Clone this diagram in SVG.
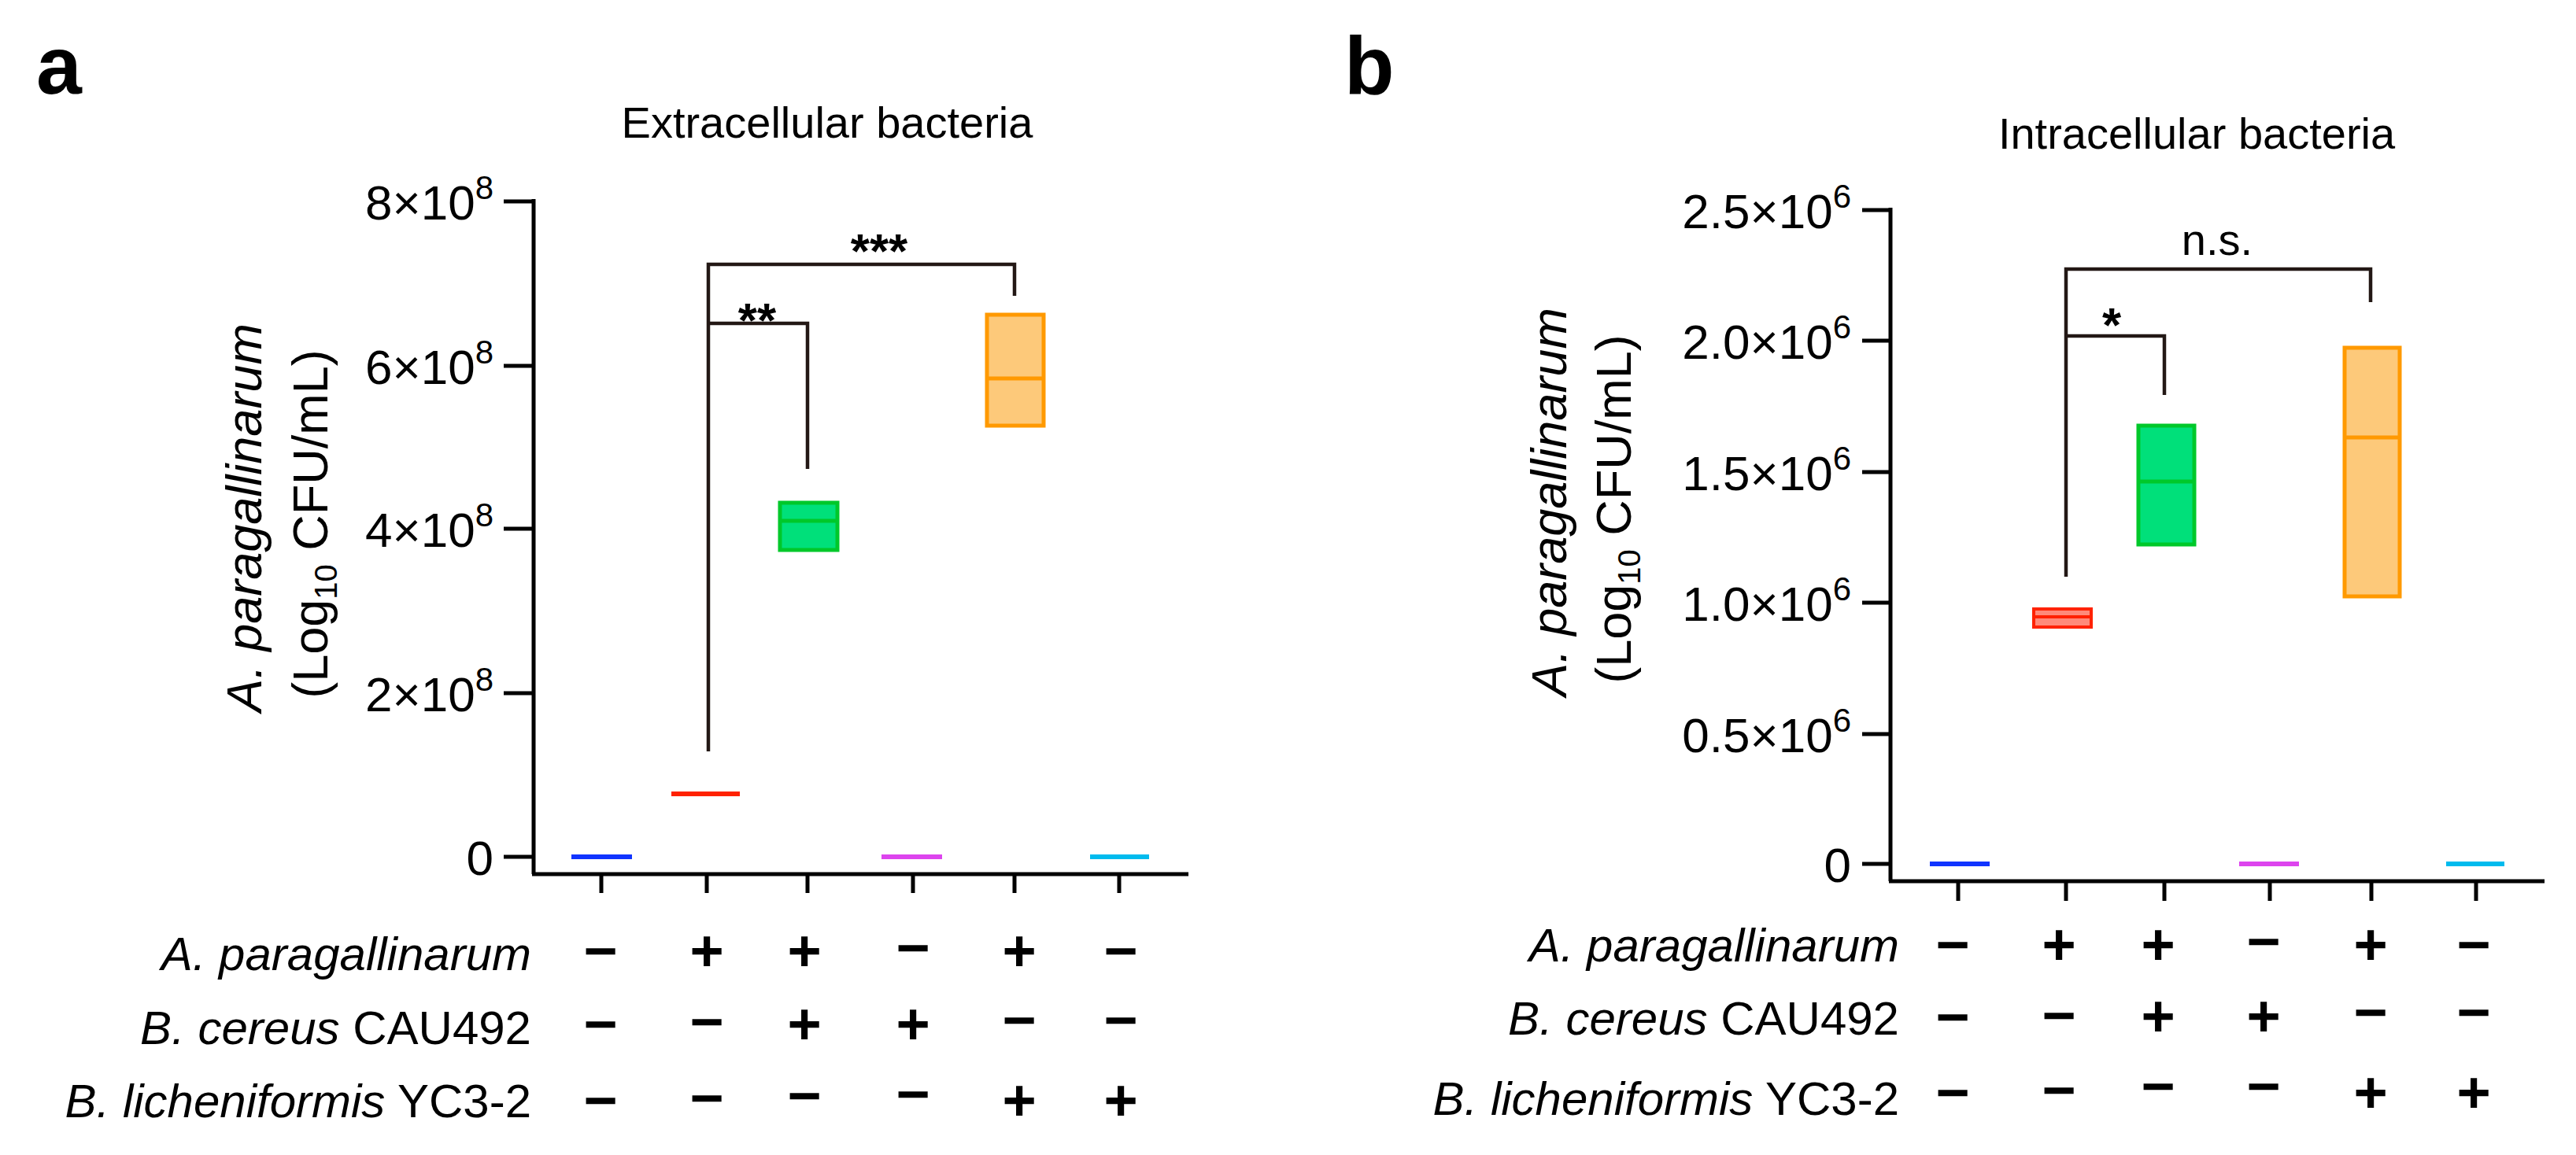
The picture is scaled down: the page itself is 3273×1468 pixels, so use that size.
<svg xmlns="http://www.w3.org/2000/svg" width="3273" height="1468" viewBox="0 0 3273 1468">
<style>
text{font-family:"Liberation Sans",Arial,sans-serif;fill:#000}
.ax{stroke:#000;stroke-width:5;fill:none}
.br{stroke:#231815;stroke-width:4.5;fill:none}
.tl{font-size:62px;text-anchor:end}
.sup{font-size:42px}
.lab{font-size:60px;text-anchor:end}
.sg{font-size:74px;font-weight:bold;text-anchor:middle}
.ttl{font-size:56px;text-anchor:middle}
.pl{font-size:104px;font-weight:bold}
.st{font-size:62px;font-weight:bold;text-anchor:middle}
</style>
<g id="panel-a">
<text class="pl" x="46" y="119">a</text>
<text class="ttl" x="1051" y="175">Extracellular bacteria</text>
<g id="a-axes">
<path class="ax" d="M678 253 V1111 M640 256 H678 M640 465 H678 M640 672 H678 M640 881 H678 M640 1089 H678 M676 1111 H1510 M764 1111 V1135 M898 1111 V1135 M1026 1111 V1135 M1160 1111 V1135 M1289 1111 V1135 M1422 1111 V1135"/>
<text class="tl" x="627" y="279">8×10<tspan class="sup" dy="-26">8</tspan></text>
<text class="tl" x="627" y="488">6×10<tspan class="sup" dy="-26">8</tspan></text>
<text class="tl" x="627" y="695">4×10<tspan class="sup" dy="-26">8</tspan></text>
<text class="tl" x="627" y="904">2×10<tspan class="sup" dy="-26">8</tspan></text>
<text class="tl" x="627" y="1112">0</text>
<text transform="translate(332,658) rotate(-90)" text-anchor="middle" font-size="63" font-style="italic">A. paragallinarum</text>
<text transform="translate(416,666) rotate(-90)" text-anchor="middle" font-size="63">(Log<tspan font-size="40" dy="12">10</tspan><tspan dy="-12"> CFU/mL)</tspan></text>
</g>
<g id="a-data">
<line x1="726" y1="1089" x2="803" y2="1089" stroke="#1034ff" stroke-width="6"/>
<line x1="853" y1="1009" x2="940" y2="1009" stroke="#ff2200" stroke-width="6"/>
<rect x="991" y="639" width="73" height="60" fill="#00e07a" stroke="#00c82a" stroke-width="5"/>
<line x1="991" y1="662" x2="1064" y2="662" stroke="#00c82a" stroke-width="5"/>
<rect x="1254" y="400" width="72" height="141" fill="#fdc97a" stroke="#ff9900" stroke-width="5"/>
<line x1="1254" y1="481" x2="1326" y2="481" stroke="#ff9900" stroke-width="5"/>
<line x1="1120" y1="1089" x2="1197" y2="1089" stroke="#dd44ee" stroke-width="6"/>
<line x1="1385" y1="1089" x2="1460" y2="1089" stroke="#00bbee" stroke-width="6"/>
</g>
<g id="a-connectors">
<path class="br" d="M900 955 V336 H1289 V376"/>
<path class="br" d="M900 411 H1026 V596"/>
<text class="st" x="1117" y="340">***</text>
<text class="st" x="962" y="428">**</text>
</g>
<g id="a-table">
<text class="lab" x="675" y="1233" font-style="italic">A. paragallinarum</text>
<text class="lab" x="675" y="1327"><tspan font-style="italic">B. cereus</tspan> CAU492</text>
<text class="lab" x="675" y="1420"><tspan font-style="italic">B. licheniformis</tspan> YC3-2</text>
<g class="sg">
<text class="sg" x="763" y="1234">−</text><text class="sg" x="898" y="1234">+</text><text class="sg" x="1022" y="1234">+</text><text class="sg" x="1160" y="1230">−</text><text class="sg" x="1295" y="1234">+</text><text class="sg" x="1424" y="1234">−</text>
<text class="sg" x="763" y="1327">−</text><text class="sg" x="898" y="1324">−</text><text class="sg" x="1022" y="1327">+</text><text class="sg" x="1160" y="1327">+</text><text class="sg" x="1295" y="1322">−</text><text class="sg" x="1424" y="1322">−</text>
<text class="sg" x="763" y="1424">−</text><text class="sg" x="898" y="1421">−</text><text class="sg" x="1022" y="1418">−</text><text class="sg" x="1160" y="1416">−</text><text class="sg" x="1295" y="1424">+</text><text class="sg" x="1424" y="1424">+</text>
</g>
</g>
</g>
<g id="panel-b">
<text class="pl" x="1708" y="119">b</text>
<text class="ttl" x="2791" y="189">Intracellular bacteria</text>
<g id="b-axes">
<path class="ax" d="M2402 264 V1120 M2366 267 H2402 M2366 433 H2402 M2366 600 H2402 M2366 766 H2402 M2366 933 H2402 M2366 1098 H2402 M2400 1120 H3233 M2488 1120 V1145 M2625 1120 V1145 M2750 1120 V1145 M2884 1120 V1145 M3013 1120 V1145 M3146 1120 V1145"/>
<text class="tl" x="2352" y="290">2.5×10<tspan class="sup" dy="-26">6</tspan></text>
<text class="tl" x="2352" y="456">2.0×10<tspan class="sup" dy="-26">6</tspan></text>
<text class="tl" x="2352" y="623">1.5×10<tspan class="sup" dy="-26">6</tspan></text>
<text class="tl" x="2352" y="789">1.0×10<tspan class="sup" dy="-26">6</tspan></text>
<text class="tl" x="2352" y="956">0.5×10<tspan class="sup" dy="-26">6</tspan></text>
<text class="tl" x="2352" y="1121">0</text>
<text transform="translate(1990,638) rotate(-90)" text-anchor="middle" font-size="63" font-style="italic">A. paragallinarum</text>
<text transform="translate(2072,647) rotate(-90)" text-anchor="middle" font-size="63">(Log<tspan font-size="40" dy="12">10</tspan><tspan dy="-12"> CFU/mL)</tspan></text>
</g>
<g id="b-data">
<line x1="2452" y1="1098" x2="2528" y2="1098" stroke="#1034ff" stroke-width="6"/>
<rect x="2584" y="774" width="73" height="23" fill="#ff8a7a" stroke="#ff2200" stroke-width="4"/>
<line x1="2584" y1="784" x2="2657" y2="784" stroke="#ff2200" stroke-width="4"/>
<rect x="2717" y="541" width="71" height="151" fill="#00e07a" stroke="#00c82a" stroke-width="5"/>
<line x1="2717" y1="612" x2="2788" y2="612" stroke="#00c82a" stroke-width="5"/>
<rect x="2979" y="442" width="70" height="316" fill="#fdc97a" stroke="#ff9900" stroke-width="5"/>
<line x1="2979" y1="556" x2="3049" y2="556" stroke="#ff9900" stroke-width="5"/>
<line x1="2845" y1="1098" x2="2921" y2="1098" stroke="#dd44ee" stroke-width="6"/>
<line x1="3108" y1="1098" x2="3182" y2="1098" stroke="#00bbee" stroke-width="6"/>
</g>
<g id="b-connectors">
<path class="br" d="M2625 733 V342 H3012 V384"/>
<path class="br" d="M2625 427 H2750 V502"/>
<text class="ttl" x="2817" y="324">n.s.</text>
<text class="st" x="2683" y="434">*</text>
</g>
<g id="b-table">
<text class="lab" x="2413" y="1222" font-style="italic">A. paragallinarum</text>
<text class="lab" x="2413" y="1315"><tspan font-style="italic">B. cereus</tspan> CAU492</text>
<text class="lab" x="2413" y="1417"><tspan font-style="italic">B. licheniformis</tspan> YC3-2</text>
<text class="sg" x="2481" y="1226">−</text><text class="sg" x="2616" y="1226">+</text><text class="sg" x="2742" y="1226">+</text><text class="sg" x="2876" y="1222">−</text><text class="sg" x="3012" y="1226">+</text><text class="sg" x="3143" y="1226">−</text>
<text class="sg" x="2481" y="1318">−</text><text class="sg" x="2616" y="1316">−</text><text class="sg" x="2742" y="1317">+</text><text class="sg" x="2876" y="1317">+</text><text class="sg" x="3012" y="1312">−</text><text class="sg" x="3143" y="1312">−</text>
<text class="sg" x="2481" y="1414">−</text><text class="sg" x="2616" y="1411">−</text><text class="sg" x="2742" y="1406">−</text><text class="sg" x="2876" y="1406">−</text><text class="sg" x="3012" y="1414">+</text><text class="sg" x="3143" y="1414">+</text>
</g>
</g>
</svg>
